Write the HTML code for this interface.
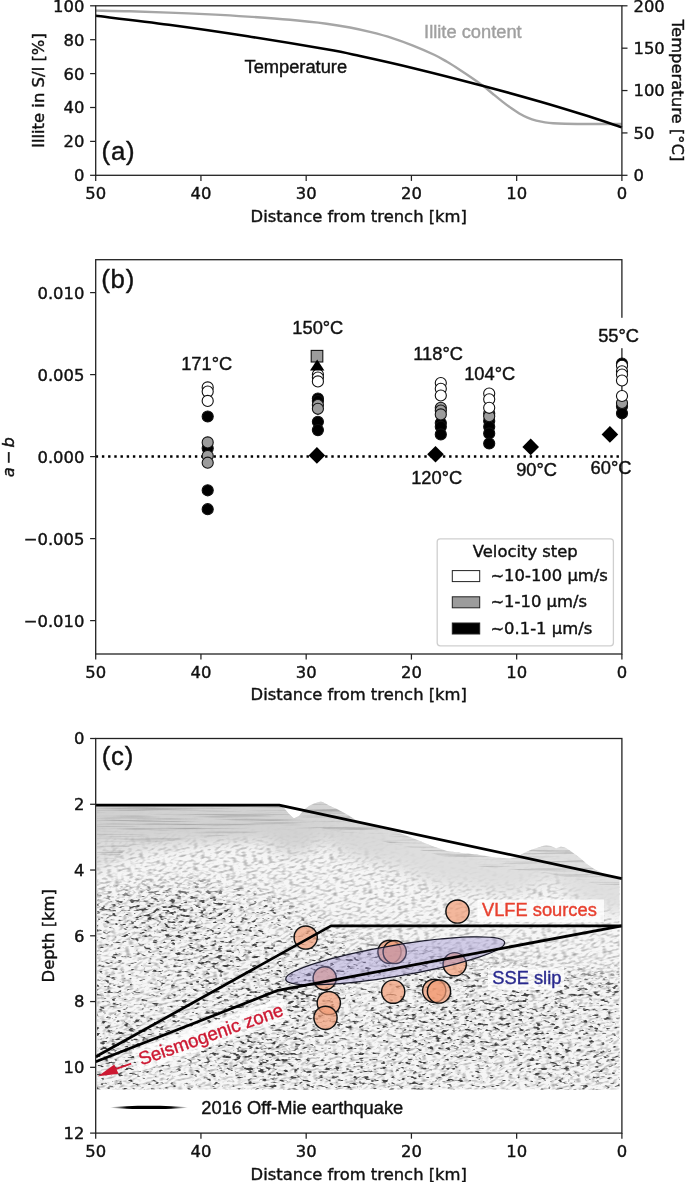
<!DOCTYPE html>
<html lang="en">
<head>
<meta charset="utf-8">
<title>Figure: illite content, friction a-b and seismic section versus distance from trench</title>
<style>
html,body{margin:0;padding:0;background:#fff;}
body{width:685px;height:1182px;overflow:hidden;}
svg{display:block;}
text{fill:#111;stroke:#111;stroke-width:0.4px;}
.tk{stroke:#222;stroke-width:1.25;}
.sp{stroke:#222;stroke-width:1.3;fill:none;}
</style>
</head>
<body>
<svg width="685" height="1182" viewBox="0 0 685 1182">
<rect x="0" y="0" width="685" height="1182" fill="#ffffff"/>
<!-- panel a -->
<g id="panel-a">
<path d="M95.70 10.60 C101.42 10.70 117.82 10.87 130.00 11.20 C142.18 11.53 155.47 12.07 168.80 12.60 C182.13 13.13 196.85 13.73 210.00 14.40 C223.15 15.07 234.37 15.70 247.70 16.60 C261.03 17.50 276.87 18.62 290.00 19.80 C303.13 20.98 316.50 22.42 326.50 23.70 C336.50 24.98 342.58 26.08 350.00 27.50 C357.42 28.92 363.95 30.43 371.00 32.20 C378.05 33.97 385.30 35.87 392.30 38.10 C399.30 40.33 405.93 42.78 413.00 45.60 C420.07 48.42 429.03 52.30 434.70 55.00 C440.37 57.70 442.78 59.32 447.00 61.80 C451.22 64.28 455.83 67.22 460.00 69.90 C464.17 72.58 468.10 75.22 472.00 77.90 C475.90 80.58 479.90 83.32 483.40 86.00 C486.90 88.68 489.83 91.40 493.00 94.00 C496.17 96.60 499.40 99.27 502.40 101.60 C505.40 103.93 508.18 106.02 511.00 108.00 C513.82 109.98 516.55 111.90 519.30 113.50 C522.05 115.10 524.67 116.40 527.50 117.60 C530.33 118.80 533.38 119.90 536.30 120.70 C539.22 121.50 542.18 121.97 545.00 122.40 C547.82 122.83 549.87 123.07 553.20 123.30 C556.53 123.53 560.07 123.68 565.00 123.80 C569.93 123.92 576.97 123.97 582.80 124.00 C588.63 124.03 593.48 124.00 600.00 124.00 C606.52 124.00 618.25 124.00 621.90 124.00" fill="none" stroke="#a6a6a6" stroke-width="2.4" stroke-linecap="butt"/>
<path d="M95.70 15.80 C107.88 17.30 143.47 21.38 168.80 24.80 C194.13 28.22 221.42 32.22 247.70 36.30 C273.98 40.38 307.78 46.02 326.50 49.30 C345.22 52.58 345.50 52.85 360.00 56.00 C374.50 59.15 392.93 63.20 413.50 68.20 C434.07 73.20 462.23 80.40 483.40 86.00 C504.57 91.60 523.93 97.03 540.50 101.80 C557.07 106.57 569.23 110.35 582.80 114.60 C596.37 118.85 615.38 125.18 621.90 127.30" fill="none" stroke="#000" stroke-width="2.6" stroke-linecap="butt"/>
<rect x="95.70" y="5.80" width="526.20" height="169.50" class="sp"/>
<line x1="90.10" y1="175.30" x2="95.70" y2="175.30" class="tk"/>
<text x="84.40" y="181.20" font-family="DejaVu Sans, Liberation Sans, sans-serif" font-size="16.4" text-anchor="end">0</text>
<line x1="90.10" y1="141.40" x2="95.70" y2="141.40" class="tk"/>
<text x="84.40" y="147.30" font-family="DejaVu Sans, Liberation Sans, sans-serif" font-size="16.4" text-anchor="end">20</text>
<line x1="90.10" y1="107.50" x2="95.70" y2="107.50" class="tk"/>
<text x="84.40" y="113.40" font-family="DejaVu Sans, Liberation Sans, sans-serif" font-size="16.4" text-anchor="end">40</text>
<line x1="90.10" y1="73.60" x2="95.70" y2="73.60" class="tk"/>
<text x="84.40" y="79.50" font-family="DejaVu Sans, Liberation Sans, sans-serif" font-size="16.4" text-anchor="end">60</text>
<line x1="90.10" y1="39.70" x2="95.70" y2="39.70" class="tk"/>
<text x="84.40" y="45.60" font-family="DejaVu Sans, Liberation Sans, sans-serif" font-size="16.4" text-anchor="end">80</text>
<line x1="90.10" y1="5.80" x2="95.70" y2="5.80" class="tk"/>
<text x="84.40" y="11.70" font-family="DejaVu Sans, Liberation Sans, sans-serif" font-size="16.4" text-anchor="end">100</text>
<line x1="621.90" y1="175.30" x2="627.50" y2="175.30" class="tk"/>
<text x="633.50" y="181.20" font-family="DejaVu Sans, Liberation Sans, sans-serif" font-size="16.4" text-anchor="start">0</text>
<line x1="621.90" y1="132.93" x2="627.50" y2="132.93" class="tk"/>
<text x="633.50" y="138.83" font-family="DejaVu Sans, Liberation Sans, sans-serif" font-size="16.4" text-anchor="start">50</text>
<line x1="621.90" y1="90.55" x2="627.50" y2="90.55" class="tk"/>
<text x="633.50" y="96.45" font-family="DejaVu Sans, Liberation Sans, sans-serif" font-size="16.4" text-anchor="start">100</text>
<line x1="621.90" y1="48.18" x2="627.50" y2="48.18" class="tk"/>
<text x="633.50" y="54.08" font-family="DejaVu Sans, Liberation Sans, sans-serif" font-size="16.4" text-anchor="start">150</text>
<line x1="621.90" y1="5.80" x2="627.50" y2="5.80" class="tk"/>
<text x="633.50" y="11.70" font-family="DejaVu Sans, Liberation Sans, sans-serif" font-size="16.4" text-anchor="start">200</text>
<line x1="95.70" y1="175.30" x2="95.70" y2="180.90" class="tk"/>
<text x="95.70" y="198.70" font-family="DejaVu Sans, Liberation Sans, sans-serif" font-size="16.4" text-anchor="middle">50</text>
<line x1="200.94" y1="175.30" x2="200.94" y2="180.90" class="tk"/>
<text x="200.94" y="198.70" font-family="DejaVu Sans, Liberation Sans, sans-serif" font-size="16.4" text-anchor="middle">40</text>
<line x1="306.18" y1="175.30" x2="306.18" y2="180.90" class="tk"/>
<text x="306.18" y="198.70" font-family="DejaVu Sans, Liberation Sans, sans-serif" font-size="16.4" text-anchor="middle">30</text>
<line x1="411.42" y1="175.30" x2="411.42" y2="180.90" class="tk"/>
<text x="411.42" y="198.70" font-family="DejaVu Sans, Liberation Sans, sans-serif" font-size="16.4" text-anchor="middle">20</text>
<line x1="516.66" y1="175.30" x2="516.66" y2="180.90" class="tk"/>
<text x="516.66" y="198.70" font-family="DejaVu Sans, Liberation Sans, sans-serif" font-size="16.4" text-anchor="middle">10</text>
<line x1="621.90" y1="175.30" x2="621.90" y2="180.90" class="tk"/>
<text x="621.90" y="198.70" font-family="DejaVu Sans, Liberation Sans, sans-serif" font-size="16.4" text-anchor="middle">0</text>
<text x="358.80" y="221.60" font-family="DejaVu Sans, Liberation Sans, sans-serif" font-size="16.4" text-anchor="middle">Distance from trench [km]</text>
<text transform="translate(43.5 90.55) rotate(-90)" font-family="DejaVu Sans, Liberation Sans, sans-serif" font-size="16.4" text-anchor="middle">Illite in S/I [%]</text>
<text transform="translate(672.0 90.55) rotate(90)" font-family="DejaVu Sans, Liberation Sans, sans-serif" font-size="16.4" text-anchor="middle">Temperature [°C]</text>
<text x="244.5" y="72.9" font-family="Liberation Sans, DejaVu Sans, sans-serif" font-size="18.3">Temperature</text>
<text x="424.1" y="38.1" font-family="Liberation Sans, DejaVu Sans, sans-serif" font-size="18.3" style="fill:#a0a0a0;stroke:#a0a0a0">Illite content</text>
<text x="101.6" y="159.6" font-family="Liberation Sans, DejaVu Sans, sans-serif" font-size="25.8" letter-spacing="0.7">(a)</text>
</g>
<!-- panel b -->
<g id="panel-b">
<line x1="95.70" y1="456.60" x2="621.90" y2="456.60" stroke="#000" stroke-width="2.5" stroke-dasharray="2.4 3.8"/>
<rect x="95.70" y="259.70" width="526.20" height="394.30" class="sp"/>
<line x1="90.10" y1="620.60" x2="95.70" y2="620.60" class="tk"/>
<text x="84.40" y="626.50" font-family="DejaVu Sans, Liberation Sans, sans-serif" font-size="16.4" text-anchor="end">−0.010</text>
<line x1="90.10" y1="538.60" x2="95.70" y2="538.60" class="tk"/>
<text x="84.40" y="544.50" font-family="DejaVu Sans, Liberation Sans, sans-serif" font-size="16.4" text-anchor="end">−0.005</text>
<line x1="90.10" y1="456.60" x2="95.70" y2="456.60" class="tk"/>
<text x="84.40" y="462.50" font-family="DejaVu Sans, Liberation Sans, sans-serif" font-size="16.4" text-anchor="end">0.000</text>
<line x1="90.10" y1="374.60" x2="95.70" y2="374.60" class="tk"/>
<text x="84.40" y="380.50" font-family="DejaVu Sans, Liberation Sans, sans-serif" font-size="16.4" text-anchor="end">0.005</text>
<line x1="90.10" y1="292.60" x2="95.70" y2="292.60" class="tk"/>
<text x="84.40" y="298.50" font-family="DejaVu Sans, Liberation Sans, sans-serif" font-size="16.4" text-anchor="end">0.010</text>
<line x1="95.70" y1="654.00" x2="95.70" y2="659.60" class="tk"/>
<text x="95.70" y="677.90" font-family="DejaVu Sans, Liberation Sans, sans-serif" font-size="16.4" text-anchor="middle">50</text>
<line x1="200.94" y1="654.00" x2="200.94" y2="659.60" class="tk"/>
<text x="200.94" y="677.90" font-family="DejaVu Sans, Liberation Sans, sans-serif" font-size="16.4" text-anchor="middle">40</text>
<line x1="306.18" y1="654.00" x2="306.18" y2="659.60" class="tk"/>
<text x="306.18" y="677.90" font-family="DejaVu Sans, Liberation Sans, sans-serif" font-size="16.4" text-anchor="middle">30</text>
<line x1="411.42" y1="654.00" x2="411.42" y2="659.60" class="tk"/>
<text x="411.42" y="677.90" font-family="DejaVu Sans, Liberation Sans, sans-serif" font-size="16.4" text-anchor="middle">20</text>
<line x1="516.66" y1="654.00" x2="516.66" y2="659.60" class="tk"/>
<text x="516.66" y="677.90" font-family="DejaVu Sans, Liberation Sans, sans-serif" font-size="16.4" text-anchor="middle">10</text>
<line x1="621.90" y1="654.00" x2="621.90" y2="659.60" class="tk"/>
<text x="621.90" y="677.90" font-family="DejaVu Sans, Liberation Sans, sans-serif" font-size="16.4" text-anchor="middle">0</text>
<text x="358.80" y="700.40" font-family="DejaVu Sans, Liberation Sans, sans-serif" font-size="16.4" text-anchor="middle">Distance from trench [km]</text>
<text transform="translate(14.2 457.20) rotate(-90)" font-family="DejaVu Sans, Liberation Sans, sans-serif" font-size="16.4" text-anchor="middle"><tspan font-style="italic">a</tspan><tspan dx="3">−</tspan><tspan dx="3" font-style="italic">b</tspan></text>
<rect x="596" y="317.8" width="45" height="30.4" fill="#fff"/>
<circle cx="207.7" cy="416.5" r="5.55" fill="#000" stroke="#111" stroke-width="1.1"/>
<circle cx="207.7" cy="448.3" r="5.55" fill="#000" stroke="#111" stroke-width="1.1"/>
<circle cx="207.7" cy="490.3" r="5.55" fill="#000" stroke="#111" stroke-width="1.1"/>
<circle cx="207.7" cy="509.2" r="5.55" fill="#000" stroke="#111" stroke-width="1.1"/>
<circle cx="207.7" cy="442.4" r="5.55" fill="#9c9c9c" stroke="#111" stroke-width="1.1"/>
<circle cx="207.7" cy="455.9" r="5.55" fill="#9c9c9c" stroke="#111" stroke-width="1.1"/>
<circle cx="207.7" cy="462.7" r="5.55" fill="#9c9c9c" stroke="#111" stroke-width="1.1"/>
<circle cx="207.7" cy="387.4" r="5.55" fill="#fff" stroke="#111" stroke-width="1.1"/>
<circle cx="207.7" cy="391.6" r="5.55" fill="#fff" stroke="#111" stroke-width="1.1"/>
<circle cx="207.7" cy="400.9" r="5.55" fill="#fff" stroke="#111" stroke-width="1.1"/>
<circle cx="317.9" cy="398.5" r="5.55" fill="#000" stroke="#111" stroke-width="1.1"/>
<circle cx="317.9" cy="401.0" r="5.55" fill="#000" stroke="#111" stroke-width="1.1"/>
<circle cx="317.9" cy="421.8" r="5.55" fill="#000" stroke="#111" stroke-width="1.1"/>
<circle cx="317.9" cy="430.1" r="5.55" fill="#000" stroke="#111" stroke-width="1.1"/>
<circle cx="317.9" cy="405.0" r="5.55" fill="#9c9c9c" stroke="#111" stroke-width="1.1"/>
<circle cx="317.9" cy="408.8" r="5.55" fill="#9c9c9c" stroke="#111" stroke-width="1.1"/>
<circle cx="317.9" cy="374.6" r="5.55" fill="#fff" stroke="#111" stroke-width="1.1"/>
<circle cx="317.9" cy="377.6" r="5.55" fill="#fff" stroke="#111" stroke-width="1.1"/>
<circle cx="317.9" cy="381.4" r="5.55" fill="#fff" stroke="#111" stroke-width="1.1"/>
<circle cx="440.8" cy="423.0" r="5.55" fill="#000" stroke="#111" stroke-width="1.1"/>
<circle cx="440.8" cy="426.8" r="5.55" fill="#000" stroke="#111" stroke-width="1.1"/>
<circle cx="440.8" cy="434.4" r="5.55" fill="#000" stroke="#111" stroke-width="1.1"/>
<circle cx="440.8" cy="407.8" r="5.55" fill="#9c9c9c" stroke="#111" stroke-width="1.1"/>
<circle cx="440.8" cy="410.6" r="5.55" fill="#9c9c9c" stroke="#111" stroke-width="1.1"/>
<circle cx="440.8" cy="414.4" r="5.55" fill="#9c9c9c" stroke="#111" stroke-width="1.1"/>
<circle cx="440.8" cy="383.1" r="5.55" fill="#fff" stroke="#111" stroke-width="1.1"/>
<circle cx="440.8" cy="388.8" r="5.55" fill="#fff" stroke="#111" stroke-width="1.1"/>
<circle cx="440.8" cy="395.5" r="5.55" fill="#fff" stroke="#111" stroke-width="1.1"/>
<circle cx="489.2" cy="421.1" r="5.55" fill="#000" stroke="#111" stroke-width="1.1"/>
<circle cx="489.2" cy="426.8" r="5.55" fill="#000" stroke="#111" stroke-width="1.1"/>
<circle cx="489.2" cy="433.4" r="5.55" fill="#000" stroke="#111" stroke-width="1.1"/>
<circle cx="489.2" cy="443.5" r="5.55" fill="#000" stroke="#111" stroke-width="1.1"/>
<circle cx="489.2" cy="413.5" r="5.55" fill="#9c9c9c" stroke="#111" stroke-width="1.1"/>
<circle cx="489.2" cy="416.3" r="5.55" fill="#9c9c9c" stroke="#111" stroke-width="1.1"/>
<circle cx="489.2" cy="393.6" r="5.55" fill="#fff" stroke="#111" stroke-width="1.1"/>
<circle cx="489.2" cy="399.3" r="5.55" fill="#fff" stroke="#111" stroke-width="1.1"/>
<circle cx="489.2" cy="407.8" r="5.55" fill="#fff" stroke="#111" stroke-width="1.1"/>
<circle cx="622.0" cy="363.6" r="5.55" fill="#000" stroke="#111" stroke-width="1.1"/>
<circle cx="622.0" cy="406.3" r="5.55" fill="#000" stroke="#111" stroke-width="1.1"/>
<circle cx="622.0" cy="413.3" r="5.55" fill="#000" stroke="#111" stroke-width="1.1"/>
<circle cx="622.0" cy="403.0" r="5.55" fill="#9c9c9c" stroke="#111" stroke-width="1.1"/>
<circle cx="622.0" cy="365.8" r="5.55" fill="#fff" stroke="#111" stroke-width="1.1"/>
<circle cx="622.0" cy="371.3" r="5.55" fill="#fff" stroke="#111" stroke-width="1.1"/>
<circle cx="622.0" cy="374.6" r="5.55" fill="#fff" stroke="#111" stroke-width="1.1"/>
<circle cx="622.0" cy="380.5" r="5.55" fill="#fff" stroke="#111" stroke-width="1.1"/>
<circle cx="622.0" cy="396.0" r="5.55" fill="#fff" stroke="#111" stroke-width="1.1"/>
<rect x="311.2" y="350.4" width="11.6" height="11.6" fill="#9c9c9c" stroke="#111" stroke-width="1.1"/>
<path d="M317.2 359.6 L324.4 370.4 L310.0 370.4 Z" fill="#000"/>
<path d="M316.9 447.1 L325.2 455.4 L316.9 463.7 L308.6 455.4 Z" fill="#000"/>
<path d="M435.5 446.0 L443.8 454.3 L435.5 462.6 L427.2 454.3 Z" fill="#000"/>
<path d="M530.7 438.6 L539.0 446.9 L530.7 455.2 L522.4 446.9 Z" fill="#000"/>
<path d="M609.9 426.1 L618.2 434.4 L609.9 442.7 L601.6 434.4 Z" fill="#000"/>
<text x="181.2" y="370.2" font-family="Liberation Sans, DejaVu Sans, sans-serif" font-size="18.3">171°C</text>
<text x="292.3" y="333.8" font-family="Liberation Sans, DejaVu Sans, sans-serif" font-size="18.3">150°C</text>
<text x="413.3" y="360.4" font-family="Liberation Sans, DejaVu Sans, sans-serif" font-size="18.3">118°C</text>
<text x="464.2" y="379.7" font-family="Liberation Sans, DejaVu Sans, sans-serif" font-size="18.3">104°C</text>
<text x="598.2" y="341.7" font-family="Liberation Sans, DejaVu Sans, sans-serif" font-size="18.3">55°C</text>
<text x="411.2" y="483.7" font-family="Liberation Sans, DejaVu Sans, sans-serif" font-size="18.3">120°C</text>
<text x="516.2" y="476.4" font-family="Liberation Sans, DejaVu Sans, sans-serif" font-size="18.3">90°C</text>
<text x="590.6" y="473.8" font-family="Liberation Sans, DejaVu Sans, sans-serif" font-size="18.3">60°C</text>
<text x="101.2" y="288.3" font-family="Liberation Sans, DejaVu Sans, sans-serif" font-size="25.8" letter-spacing="0.8">(b)</text>
<rect x="437.2" y="538.8" width="176.2" height="107" rx="3" ry="3" fill="#fff" fill-opacity="0.85" stroke="#cfcfcf" stroke-width="1.3"/>
<text x="525.3" y="557.4" font-family="DejaVu Sans, Liberation Sans, sans-serif" font-size="16.4" text-anchor="middle">Velocity step</text>
<rect x="452.3" y="570.6" width="27.4" height="11.0" fill="#fff" stroke="#222" stroke-width="1"/>
<text x="490.4" y="581.2" font-family="DejaVu Sans, Liberation Sans, sans-serif" font-size="16.4">~10-100 µm/s</text>
<rect x="452.3" y="596.8" width="27.4" height="11.0" fill="#9c9c9c" stroke="#222" stroke-width="1"/>
<text x="490.4" y="607.4" font-family="DejaVu Sans, Liberation Sans, sans-serif" font-size="16.4">~1-10 µm/s</text>
<rect x="452.3" y="623.0" width="27.4" height="11.0" fill="#000" stroke="#222" stroke-width="1"/>
<text x="490.4" y="633.6" font-family="DejaVu Sans, Liberation Sans, sans-serif" font-size="16.4">~0.1-1 µm/s</text>
</g>
<!-- panel c -->
<g id="panel-c">
<defs>
<clipPath id="seisclip"><polygon points="97.0,805.0 279.0,805.0 284.0,808.0 289.0,814.0 294.0,818.5 299.0,816.0 304.0,810.0 309.0,806.0 314.0,803.5 318.0,802.3 321.0,801.6 325.0,803.2 330.0,806.0 338.0,809.5 348.0,815.0 359.0,822.0 378.0,827.5 397.0,832.0 415.0,839.0 432.0,846.0 447.0,851.0 462.0,853.0 477.0,854.5 495.0,857.5 510.0,858.5 517.0,857.0 524.0,853.0 532.0,849.5 540.0,847.0 546.0,845.0 551.0,846.0 556.0,848.5 561.0,846.5 566.0,848.0 572.0,852.0 580.0,858.0 588.0,865.0 596.0,870.0 604.0,874.0 619.5,878.5 619.5,1089.4 97.0,1089.4"/></clipPath>
<clipPath id="bandclip"><polygon points="97.0,805.0 279.0,805.0 284.0,808.0 289.0,814.0 294.0,818.5 299.0,816.0 304.0,810.0 309.0,806.0 314.0,803.5 318.0,802.3 321.0,801.6 325.0,803.2 330.0,806.0 338.0,809.5 348.0,815.0 359.0,822.0 378.0,827.5 397.0,832.0 415.0,839.0 432.0,846.0 447.0,851.0 462.0,853.0 477.0,854.5 495.0,857.5 510.0,858.5 517.0,857.0 524.0,853.0 532.0,849.5 540.0,847.0 546.0,845.0 551.0,846.0 556.0,848.5 561.0,846.5 566.0,848.0 572.0,852.0 580.0,858.0 588.0,865.0 596.0,870.0 604.0,874.0 619.5,878.5 619.5,890.0 580.0,880.0 540.0,872.0 477.0,866.0 420.0,850.0 360.0,836.0 320.0,828.0 279.0,830.0 240.0,834.0 200.0,838.0 160.0,842.0 130.0,846.0 112.0,862.0 97.0,866.0"/></clipPath>
<filter id="speck" x="0" y="0" width="100%" height="100%" color-interpolation-filters="sRGB">
<feTurbulence type="fractalNoise" baseFrequency="0.17 0.34" numOctaves="2" seed="7"/>
<feColorMatrix type="matrix" values="1 0 0 0 0  0 0 0 0 0  0 0 0 0 0  0 0 0 0 1" result="hi"/>
<feTurbulence type="fractalNoise" baseFrequency="0.009 0.014" numOctaves="2" seed="4"/>
<feColorMatrix type="matrix" values="1 0 0 0 0  0 0 0 0 0  0 0 0 0 0  0 0 0 0 1" result="lo"/>
<feComposite in="hi" in2="lo" operator="arithmetic" k1="0" k2="1" k3="0.2" k4="-0.1" result="mix"/>
<feColorMatrix in="mix" type="matrix" values="0 0 0 0 0.22  0 0 0 0 0.22  0 0 0 0 0.22  -6 0 0 0 2.55"/>
<feGaussianBlur stdDeviation="0.55"/>
</filter>
<filter id="fine" x="0" y="0" width="100%" height="100%" color-interpolation-filters="sRGB">
<feTurbulence type="fractalNoise" baseFrequency="0.2 0.45" numOctaves="1" seed="11"/>
<feColorMatrix type="matrix" values="0 0 0 0 0.35  0 0 0 0 0.35  0 0 0 0 0.35  -3 0 0 0 1.6"/>
</filter>
<filter id="layers" x="0" y="0" width="100%" height="100%" color-interpolation-filters="sRGB">
<feTurbulence type="fractalNoise" baseFrequency="0.01 0.5" numOctaves="3" seed="5"/>
<feColorMatrix type="matrix" values="0 0 0 0 0.25  0 0 0 0 0.25  0 0 0 0 0.25  -3 0 0 0 1.55"/>
</filter>
<filter id="soft" x="-10%" y="-20%" width="120%" height="140%">
<feGaussianBlur stdDeviation="11"/>
</filter>
<filter id="soft2" x="-10%" y="-50%" width="120%" height="200%">
<feGaussianBlur stdDeviation="7"/>
</filter>
<linearGradient id="depthfade" x1="0" y1="0" x2="0" y2="1">
<stop offset="0" stop-color="#fff" stop-opacity="0.62"/>
<stop offset="0.28" stop-color="#fff" stop-opacity="0.42"/>
<stop offset="0.6" stop-color="#fff" stop-opacity="0.12"/>
<stop offset="1" stop-color="#fff" stop-opacity="0.05"/>
</linearGradient>
<linearGradient id="eqline" x1="0" y1="0" x2="1" y2="0">
<stop offset="0" stop-color="#000" stop-opacity="0"/>
<stop offset="0.22" stop-color="#000" stop-opacity="1"/>
<stop offset="0.78" stop-color="#000" stop-opacity="1"/>
<stop offset="1" stop-color="#000" stop-opacity="0"/>
</linearGradient>
</defs>
<mask id="coarsemask" maskUnits="userSpaceOnUse" x="90" y="790" width="540" height="310">
<polygon points="40,905 120,892 200,884 260,892 300,912 340,938 400,950 450,958 520,968 600,975 680,978 680,1140 40,1140" fill="#fff" filter="url(#soft)"/>
</mask>
<g clip-path="url(#seisclip)">
<rect x="96" y="798" width="526" height="294" fill="#f6f6f6"/>
<rect x="20" y="700" width="700" height="500" transform="rotate(-13 359 945)" filter="url(#fine)" opacity="0.5"/>
<g mask="url(#coarsemask)"><rect x="96" y="798" width="526" height="294" filter="url(#speck)" opacity="0.95"/></g>
<linearGradient id="bandgrad" gradientUnits="userSpaceOnUse" x1="96" y1="0" x2="622" y2="0"><stop offset="0" stop-color="#cbcbcb"/><stop offset="0.4" stop-color="#d0d0d0"/><stop offset="0.6" stop-color="#dcdcdc"/><stop offset="1" stop-color="#dedede"/></linearGradient>
<polyline points="40.0,805.0 97.0,805.0 279.0,805.0 284.0,808.0 289.0,814.0 294.0,818.5 299.0,816.0 304.0,810.0 309.0,806.0 314.0,803.5 318.0,802.3 321.0,801.6 325.0,803.2 330.0,806.0 338.0,809.5 348.0,815.0 359.0,822.0 378.0,827.5 397.0,832.0 415.0,839.0 432.0,846.0 447.0,851.0 462.0,853.0 477.0,854.5 495.0,857.5 510.0,858.5 517.0,857.0 524.0,853.0 532.0,849.5 540.0,847.0 546.0,845.0 551.0,846.0 556.0,848.5 561.0,846.5 566.0,848.0 572.0,852.0 580.0,858.0 588.0,865.0 596.0,870.0 604.0,874.0 619.5,878.5 680.0,880.0" fill="none" stroke="url(#bandgrad)" stroke-width="70" stroke-linejoin="round" filter="url(#soft2)" opacity="0.9"/>
<polygon points="60,800 300,800 330,812 300,832 250,838 200,842 150,850 120,860 96,872 60,876" fill="#d2d2d2" fill-opacity="0.6" filter="url(#soft2)"/>
<g clip-path="url(#bandclip)">
<rect x="96" y="798" width="526" height="100" filter="url(#layers)" opacity="0.28"/>
</g>
</g>
<circle cx="305.7" cy="937.5" r="11.6" fill="#f29c76" fill-opacity="0.7" stroke="#111" stroke-width="1.45"/>
<circle cx="457.5" cy="911.5" r="11.6" fill="#f29c76" fill-opacity="0.7" stroke="#111" stroke-width="1.45"/>
<circle cx="389.5" cy="951.8" r="11.6" fill="#f29c76" fill-opacity="0.7" stroke="#111" stroke-width="1.45"/>
<circle cx="394.7" cy="952.0" r="11.6" fill="#f29c76" fill-opacity="0.7" stroke="#111" stroke-width="1.45"/>
<circle cx="454.7" cy="964.2" r="11.6" fill="#f29c76" fill-opacity="0.7" stroke="#111" stroke-width="1.45"/>
<circle cx="324.7" cy="978.3" r="11.6" fill="#f29c76" fill-opacity="0.7" stroke="#111" stroke-width="1.45"/>
<circle cx="393.2" cy="991.7" r="11.6" fill="#f29c76" fill-opacity="0.7" stroke="#111" stroke-width="1.45"/>
<circle cx="434.2" cy="990.8" r="11.6" fill="#f29c76" fill-opacity="0.7" stroke="#111" stroke-width="1.45"/>
<circle cx="439.0" cy="991.5" r="11.6" fill="#f29c76" fill-opacity="0.7" stroke="#111" stroke-width="1.45"/>
<circle cx="328.8" cy="1003.0" r="11.6" fill="#f29c76" fill-opacity="0.7" stroke="#111" stroke-width="1.45"/>
<circle cx="325.5" cy="1017.8" r="11.6" fill="#f29c76" fill-opacity="0.7" stroke="#111" stroke-width="1.45"/>
<ellipse cx="395.2" cy="960.8" rx="111" ry="15.5" transform="rotate(-9.6 395.2 960.8)" fill="#9a8fd2" fill-opacity="0.4" stroke="#1a1a2a" stroke-width="1.3"/>
<rect x="477.5" y="899.5" width="126.5" height="22.5" fill="#fff" fill-opacity="0.8"/>
<rect x="488" y="967.5" width="76" height="22.5" fill="#fff" fill-opacity="0.8"/>
<g transform="translate(141.3 1065.6) rotate(-19.4)">
<rect x="-4" y="-17.5" width="160" height="22.5" fill="#fff" fill-opacity="0.8"/>
</g>
<path d="M95.7 805.1 L279.2 805.1 L621.9 878.6" fill="none" stroke="#000" stroke-width="2.75" stroke-linejoin="round"/>
<path d="M95.7 1056.8 L331 925.9 L621.9 925.9" fill="none" stroke="#000" stroke-width="2.75" stroke-linejoin="round"/>
<path d="M95.7 1061.8 L278 990.3 L621.9 925.9" fill="none" stroke="#000" stroke-width="2.75" stroke-linejoin="round"/>
<text x="482.0" y="916.3" font-family="Liberation Sans, DejaVu Sans, sans-serif" font-size="18.3" style="fill:#e8402f;stroke:#e8402f">VLFE sources</text>
<text x="492.3" y="984.4" font-family="Liberation Sans, DejaVu Sans, sans-serif" font-size="18.3" style="fill:#2a2a8f;stroke:#2a2a8f">SSE slip</text>
<g transform="translate(141.3 1065.6) rotate(-19.4)">
<text x="0" y="0" font-family="Liberation Sans, DejaVu Sans, sans-serif" font-size="18.6" style="fill:#cd1932;stroke:#cd1932">Seismogenic zone</text>
</g>
<path d="M131.2 1063.6 L114 1069.6" stroke="#cd1932" stroke-width="1.8" fill="none"/>
<path d="M98.0 1076.3 L114.3 1064.6 L118.6 1073.8 Z" fill="#cd1932"/>
<path d="M109.5 1107.4 C128 1105.2 170 1105.2 188.5 1107.4 C170 1109.6 128 1109.6 109.5 1107.4 Z" fill="url(#eqline)"/>
<text x="201.3" y="1113.6" font-family="Liberation Sans, DejaVu Sans, sans-serif" font-size="18.3">2016 Off-Mie earthquake</text>
<rect x="95.70" y="738.50" width="526.20" height="394.60" class="sp"/>
<line x1="90.10" y1="738.50" x2="95.70" y2="738.50" class="tk"/>
<text x="84.40" y="744.40" font-family="DejaVu Sans, Liberation Sans, sans-serif" font-size="16.4" text-anchor="end">0</text>
<line x1="90.10" y1="804.27" x2="95.70" y2="804.27" class="tk"/>
<text x="84.40" y="810.17" font-family="DejaVu Sans, Liberation Sans, sans-serif" font-size="16.4" text-anchor="end">2</text>
<line x1="90.10" y1="870.03" x2="95.70" y2="870.03" class="tk"/>
<text x="84.40" y="875.93" font-family="DejaVu Sans, Liberation Sans, sans-serif" font-size="16.4" text-anchor="end">4</text>
<line x1="90.10" y1="935.80" x2="95.70" y2="935.80" class="tk"/>
<text x="84.40" y="941.70" font-family="DejaVu Sans, Liberation Sans, sans-serif" font-size="16.4" text-anchor="end">6</text>
<line x1="90.10" y1="1001.57" x2="95.70" y2="1001.57" class="tk"/>
<text x="84.40" y="1007.47" font-family="DejaVu Sans, Liberation Sans, sans-serif" font-size="16.4" text-anchor="end">8</text>
<line x1="90.10" y1="1067.33" x2="95.70" y2="1067.33" class="tk"/>
<text x="84.40" y="1073.23" font-family="DejaVu Sans, Liberation Sans, sans-serif" font-size="16.4" text-anchor="end">10</text>
<line x1="90.10" y1="1133.10" x2="95.70" y2="1133.10" class="tk"/>
<text x="84.40" y="1139.00" font-family="DejaVu Sans, Liberation Sans, sans-serif" font-size="16.4" text-anchor="end">12</text>
<line x1="95.70" y1="1133.10" x2="95.70" y2="1138.70" class="tk"/>
<text x="95.70" y="1157.30" font-family="DejaVu Sans, Liberation Sans, sans-serif" font-size="16.4" text-anchor="middle">50</text>
<line x1="200.94" y1="1133.10" x2="200.94" y2="1138.70" class="tk"/>
<text x="200.94" y="1157.30" font-family="DejaVu Sans, Liberation Sans, sans-serif" font-size="16.4" text-anchor="middle">40</text>
<line x1="306.18" y1="1133.10" x2="306.18" y2="1138.70" class="tk"/>
<text x="306.18" y="1157.30" font-family="DejaVu Sans, Liberation Sans, sans-serif" font-size="16.4" text-anchor="middle">30</text>
<line x1="411.42" y1="1133.10" x2="411.42" y2="1138.70" class="tk"/>
<text x="411.42" y="1157.30" font-family="DejaVu Sans, Liberation Sans, sans-serif" font-size="16.4" text-anchor="middle">20</text>
<line x1="516.66" y1="1133.10" x2="516.66" y2="1138.70" class="tk"/>
<text x="516.66" y="1157.30" font-family="DejaVu Sans, Liberation Sans, sans-serif" font-size="16.4" text-anchor="middle">10</text>
<line x1="621.90" y1="1133.10" x2="621.90" y2="1138.70" class="tk"/>
<text x="621.90" y="1157.30" font-family="DejaVu Sans, Liberation Sans, sans-serif" font-size="16.4" text-anchor="middle">0</text>
<text x="358.80" y="1179.60" font-family="DejaVu Sans, Liberation Sans, sans-serif" font-size="16.4" text-anchor="middle">Distance from trench [km]</text>
<text transform="translate(53.7 935.80) rotate(-90)" font-family="DejaVu Sans, Liberation Sans, sans-serif" font-size="16.4" text-anchor="middle">Depth [km]</text>
<text x="101.8" y="765.2" font-family="Liberation Sans, DejaVu Sans, sans-serif" font-size="25.8" letter-spacing="0.7">(c)</text>
</g>
</svg>
</body>
</html>
